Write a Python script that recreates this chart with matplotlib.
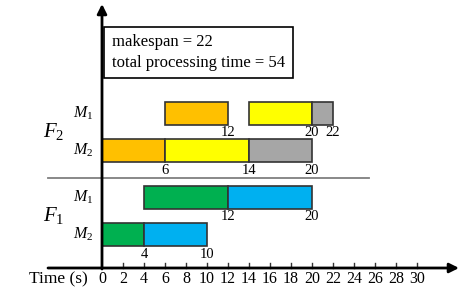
import matplotlib
matplotlib.use("Agg")
import matplotlib.pyplot as plt

plt.rcParams['font.family'] = ['Liberation Serif', 'DejaVu Serif']
plt.rcParams['mathtext.fontset'] = 'custom'
plt.rcParams['mathtext.rm'] = 'Liberation Serif'
plt.rcParams['mathtext.it'] = 'Liberation Serif:italic'

# ---- data ----
rows = ["F2-M1", "F2-M2", "F1-M1", "F1-M2"]
starts = {
    "F2-M1": [6, 14, 20],
    "F2-M2": [0, 6, 14],
    "F1-M1": [4, 12],
    "F1-M2": [0, 4],
}
ends = {
    "F2-M1": [12, 20, 22],
    "F2-M2": [6, 14, 20],
    "F1-M1": [12, 20],
    "F1-M2": [4, 10],
}
colors_by_row = {
    "F2-M1": ["#FFC000", "#FFFF00", "#A6A6A6"],
    "F2-M2": ["#FFC000", "#FFFF00", "#A6A6A6"],
    "F1-M1": ["#00B050", "#00B0F0"],
    "F1-M2": ["#00B050", "#00B0F0"],
}
end_labels = {
    "F2-M1": [12, 20, 22],
    "F2-M2": [6, 14, 20],
    "F1-M1": [12, 20],
    "F1-M2": [4, 10],
}
ticks = list(range(0, 31, 2))
makespan = 22
total_time = 54

# ---- layout (pixel-like y coordinates) ----
W, H = 477, 306
fig = plt.figure(figsize=(W / 100, H / 100), dpi=100)
ax = fig.add_axes([0, 0, 1, 1])
px = 10.5      # pixels per time unit
x0 = 102       # pixel of time 0
ax.set_xlim(-x0 / px, (W - x0) / px)
ax.set_ylim(H, 0)
ax.axis('off')

row_y = {"F2-M1": 113.5, "F2-M2": 150.5, "F1-M1": 197, "F1-M2": 234.5}
bar_h = 23

for r in rows:
    for s, e, c in zip(starts[r], ends[r], colors_by_row[r]):
        ax.barh(row_y[r], e - s, left=s, height=bar_h, color=c,
                edgecolor='#333333', linewidth=1.2, zorder=3)
    for v in end_labels[r]:
        ax.text(v, row_y[r] + bar_h / 2 + 8, str(v), ha='center', va='center',
                fontsize=10.5, zorder=4)

# machine labels
mlabels = {"F2-M1": r"$M_1$", "F2-M2": r"$M_2$", "F1-M1": r"$M_1$", "F1-M2": r"$M_2$"}
for r in rows:
    ax.text(-19 / px, row_y[r], mlabels[r], ha='center', va='center', fontsize=11.5)
ax.text(-48 / px, 131, r"$F_2$", ha='center', va='center', fontsize=15)
ax.text(-48 / px, 216, r"$F_1$", ha='center', va='center', fontsize=15)

# separator line
ax.plot([-54 / px, 267 / px], [178, 178], color='#7f7f7f', lw=1.3, zorder=2)

# axes with arrows
y_axis = 268
ax.annotate('', xy=(0, 4), xytext=(0, y_axis + 1),
            arrowprops=dict(arrowstyle='-|>', color='black', lw=2,
                            mutation_scale=14, shrinkA=0, shrinkB=0), zorder=5)
ax.annotate('', xy=(357 / px, y_axis), xytext=(-54 / px, y_axis),
            arrowprops=dict(arrowstyle='-|>', color='black', lw=2,
                            mutation_scale=14, shrinkA=0, shrinkB=0), zorder=5)
for t in ticks:
    if t > 0:
        ax.plot([t, t], [y_axis, y_axis - 5], color='#333333', lw=1, zorder=4)
    ax.text(t, 279, str(t), ha='center', va='center', fontsize=11.5)
ax.text(-44 / px, 279, "Time (s)", ha='center', va='center', fontsize=12.5)

# info box
ax.text(10 / px, 52.5, f"makespan = {makespan}\ntotal processing time = {total_time}",
        ha='left', va='center', fontsize=12, linespacing=1.35, zorder=6,
        bbox=dict(boxstyle='square,pad=0.45', facecolor='white', edgecolor='black', lw=1.2))

fig.savefig("out.png", dpi=100)
